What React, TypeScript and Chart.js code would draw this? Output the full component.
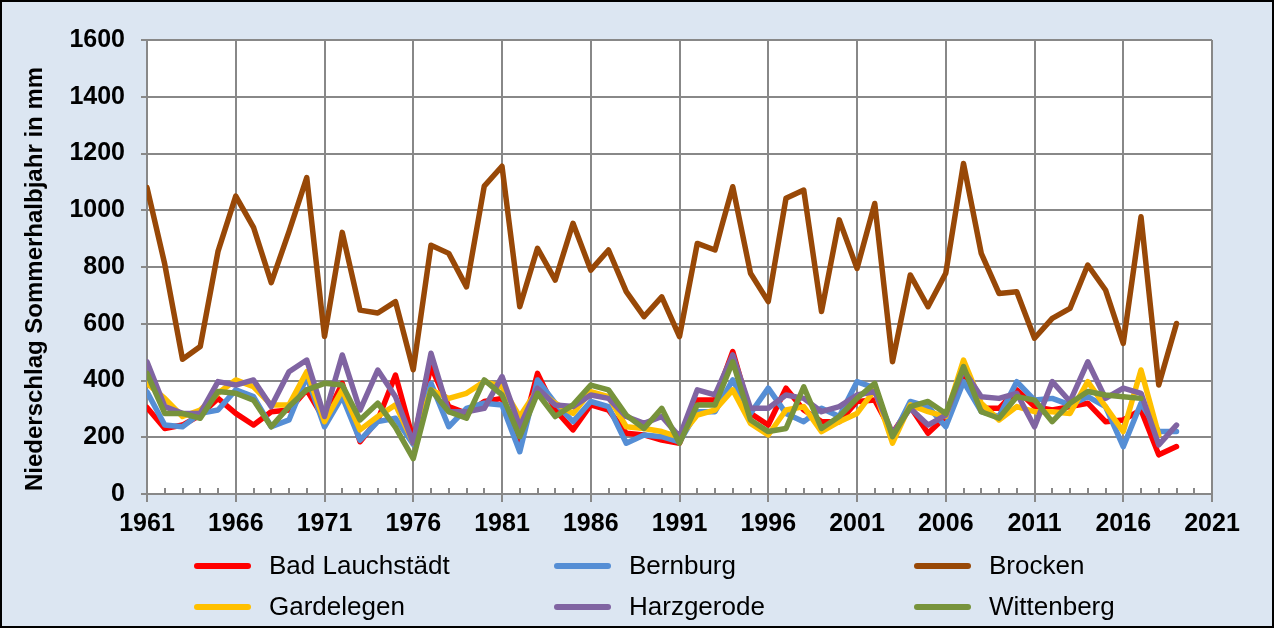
import React, { useEffect, useRef } from "react";
import { Chart, registerables } from "chart.js";

Chart.register(...registerables);

const years: number[] = [
  1961, 1962, 1963, 1964, 1965, 1966, 1967, 1968, 1969, 1970,
  1971, 1972, 1973, 1974, 1975, 1976, 1977, 1978, 1979, 1980,
  1981, 1982, 1983, 1984, 1985, 1986, 1987, 1988, 1989, 1990,
  1991, 1992, 1993, 1994, 1995, 1996, 1997, 1998, 1999, 2000,
  2001, 2002, 2003, 2004, 2005, 2006, 2007, 2008, 2009, 2010,
  2011, 2012, 2013, 2014, 2015, 2016, 2017, 2018, 2019,
];

const badLauchstaedt: (number | null)[] = [
  305, 231, 243, 278, 337, 284, 243, 290, 296, 367,
  261, 390, 184, 261, 419, 190, 449, 308, 284, 326,
  337, 190, 425, 296, 226, 314, 296, 214, 208, 190,
  179, 331, 331, 502, 284, 243, 373, 296, 255, 255,
  326, 331, 214, 308, 214, 273, 431, 302, 302, 367,
  308, 296, 308, 320, 255, 261, 296, 138, 167,
];

const bernburg: (number | null)[] = [
  360, 243, 237, 284, 296, 367, 343, 237, 261, 414,
  237, 343, 190, 255, 267, 175, 390, 237, 302, 320,
  314, 149, 402, 320, 255, 326, 308, 179, 208, 202,
  184, 290, 290, 402, 284, 373, 284, 255, 302, 273,
  396, 373, 202, 326, 308, 237, 396, 290, 273, 396,
  331, 337, 314, 343, 308, 167, 320, 220, 220,
];

const brocken: (number | null)[] = [
  1080, 810, 475, 520, 855, 1050, 940, 745, 925, 1115,
  555, 922, 648, 638, 678, 438, 877, 848, 730, 1085,
  1155, 660, 866, 754, 954, 789, 860, 713, 625, 695,
  555, 883, 860, 1083, 778, 678, 1042, 1071, 643, 966,
  795, 1024, 466, 772, 660, 778, 1165, 848, 707, 713,
  549, 619, 654, 807, 719, 531, 977, 384, 601,
];

const gardelegen: (number | null)[] = [
  390, 337, 273, 296, 355, 402, 378, 314, 314, 431,
  255, 367, 226, 273, 314, 180, 367, 337, 355, 396,
  378, 273, 367, 320, 284, 361, 343, 237, 231, 220,
  200, 278, 296, 367, 249, 208, 296, 308, 220, 255,
  284, 367, 179, 314, 290, 273, 472, 320, 261, 308,
  290, 290, 284, 396, 308, 220, 437, 208, null,
];

const harzgerode: (number | null)[] = [
  466, 308, 284, 284, 396, 384, 402, 308, 431, 472,
  273, 490, 296, 437, 343, 180, 496, 290, 290, 302,
  414, 237, 373, 314, 308, 349, 337, 273, 249, 273,
  202, 367, 349, 490, 302, 302, 349, 337, 290, 308,
  349, 361, 214, 302, 243, 278, 437, 343, 337, 355,
  237, 396, 326, 466, 337, 373, 355, 173, 243,
];

const wittenberg: (number | null)[] = [
  425, 284, 284, 267, 361, 355, 331, 237, 308, 367,
  390, 384, 261, 320, 235, 125, 367, 290, 267, 402,
  349, 202, 355, 273, 314, 384, 367, 278, 231, 302,
  179, 314, 314, 466, 261, 220, 231, 378, 231, 273,
  337, 390, 202, 308, 326, 284, 449, 290, 267, 343,
  331, 255, 320, 361, 349, 343, 337, null, null,
];

const seriesNames: string[] = [
  "Bad Lauchstädt",
  "Bernburg",
  "Brocken",
  "Gardelegen",
  "Harzgerode",
  "Wittenberg",
];
const seriesColors: string[] = [
  "#FF0000",
  "#558ED5",
  "#984807",
  "#FFC000",
  "#8064A2",
  "#77933C",
];
const seriesValues = [badLauchstaedt, bernburg, brocken, gardelegen, harzgerode, wittenberg];

const xTickValues: number[] = [1961, 1966, 1971, 1976, 1981, 1986, 1991, 1996, 2001, 2006, 2011, 2016, 2021];
const yAxisTitle = "Niederschlag Sommerhalbjahr in mm";

const FONT = "'Liberation Sans', Arial, Helvetica, sans-serif";
const GRID = "#888888";

export default function App() {
  const canvasRef = useRef<HTMLCanvasElement | null>(null);

  useEffect(() => {
    document.body.style.margin = "0";
    const canvas = canvasRef.current;
    if (!canvas) return;

    const backgroundPlugin = {
      id: "bgPlugin",
      beforeDraw(chart: any) {
        const { ctx, width, height, chartArea } = chart;
        ctx.save();
        ctx.fillStyle = "#DCE6F2";
        ctx.fillRect(0, 0, width, height);
        ctx.fillStyle = "#FFFFFF";
        ctx.fillRect(chartArea.left, chartArea.top, chartArea.right - chartArea.left, chartArea.bottom - chartArea.top);
        ctx.restore();
      },
      afterDraw(chart: any) {
        const { ctx, width, height, chartArea } = chart;
        const xs = chart.scales.x;
        ctx.save();
        // minor ticks
        ctx.strokeStyle = GRID;
        ctx.lineWidth = 2;
        for (let yr = 1961; yr <= 2021; yr++) {
          if ((yr - 1961) % 5 === 0) continue;
          const px = Math.round(xs.getPixelForValue(yr));
          ctx.beginPath();
          ctx.moveTo(px, chartArea.bottom - 6);
          ctx.lineTo(px, chartArea.bottom);
          ctx.stroke();
        }
        // y axis title
        ctx.fillStyle = "#000";
        ctx.font = `bold 24px ${FONT}`;
        ctx.textAlign = "center";
        ctx.textBaseline = "middle";
        ctx.translate(35, 279);
        ctx.rotate(-Math.PI / 2);
        ctx.fillText(yAxisTitle, 0, 0);
        ctx.setTransform(1, 0, 0, 1, 0, 0);
        // legend
        chart.data.datasets.forEach((ds: any, i: number) => {
          const col = i % 3;
          const row = Math.floor(i / 3);
          const x0 = 197 + col * 360;
          const y0 = 566 + row * 41;
          ctx.strokeStyle = ds.borderColor;
          ctx.lineWidth = 6;
          ctx.lineCap = "round";
          ctx.beginPath();
          ctx.moveTo(x0, y0);
          ctx.lineTo(x0 + 51, y0);
          ctx.stroke();
          ctx.fillStyle = "#000";
          ctx.font = `26px ${FONT}`;
          ctx.textAlign = "left";
          ctx.textBaseline = "middle";
          ctx.fillText(ds.label, 269 + col * 360, y0 + 1);
        });
        // frame
        ctx.strokeStyle = "#000";
        ctx.lineWidth = 2;
        ctx.lineCap = "butt";
        ctx.strokeRect(1, 1, width - 2, height - 2);
        ctx.restore();
      },
    };

    const drawOrder = [5, 4, 3, 2, 1, 0];

    const chart = new Chart(canvas, {
      type: "line",
      data: {
        datasets: seriesNames.map((name, i) => ({
          label: name,
          data: years.map((yr, j) => ({ x: yr, y: seriesValues[i][j] })),
          borderColor: seriesColors[i],
          backgroundColor: seriesColors[i],
          borderWidth: 5.5,
          pointRadius: 0,
          pointHoverRadius: 0,
          tension: 0,
          fill: false,
          spanGaps: false,
          order: drawOrder[i],
          borderJoinStyle: "round" as const,
          borderCapStyle: "round" as const,
        })),
      },
      options: {
        animation: false,
        responsive: false,
        devicePixelRatio: 1,
        events: [],
        layout: { padding: { left: 0, top: 40, right: 62, bottom: 84 } },
        plugins: {
          legend: { display: false },
          tooltip: { enabled: false },
          title: { display: false },
        },
        scales: {
          x: {
            type: "linear",
            min: 1961,
            max: 2021,
            afterBuildTicks: (scale: any) => {
              scale.ticks = xTickValues.map((v) => ({ value: v }));
            },
            afterFit: (scale: any) => {
              scale.height = 50;
            },
            ticks: {
              autoSkip: false,
              maxRotation: 0,
              padding: 7,
              color: "#000",
              font: { family: FONT, size: 25, weight: "bold" },
              callback: (v: any) => String(v),
            },
            grid: { color: GRID, lineWidth: 2, drawTicks: true, tickLength: 8, tickColor: GRID },
            border: { display: true, color: GRID, width: 2 },
          },
          y: {
            type: "linear",
            min: 0,
            max: 1600,
            afterFit: (scale: any) => {
              scale.width = 147;
            },
            ticks: {
              stepSize: 200,
              padding: 16,
              color: "#000",
              font: { family: FONT, size: 25, weight: "bold" },
              callback: (v: any) => String(v),
            },
            grid: { color: GRID, lineWidth: 2, drawTicks: true, tickLength: 6, tickColor: GRID },
            border: { display: true, color: GRID, width: 2 },
          },
        },
      },
      plugins: [backgroundPlugin],
    } as any);

    return () => {
      chart.destroy();
    };
  }, []);

  return (
    <div style={{ width: 1274, height: 628, position: "relative" }}>
      <canvas ref={canvasRef} width={1274} height={628} style={{ display: "block", width: 1274, height: 628 }} />
    </div>
  );
}
